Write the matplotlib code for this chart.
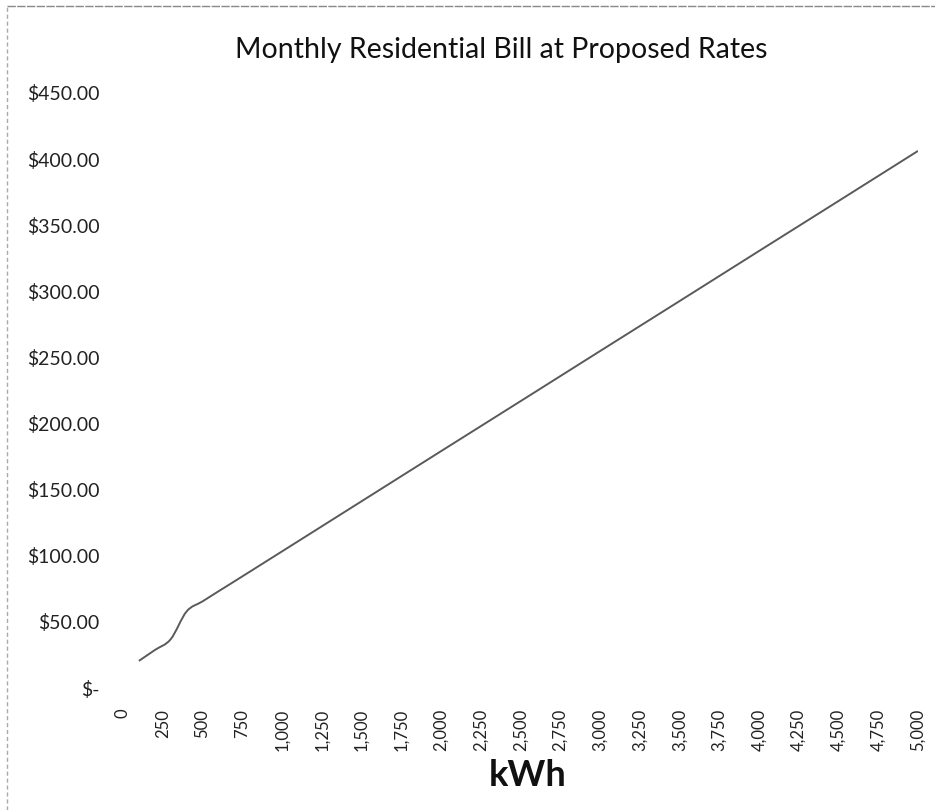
import matplotlib.pyplot as plt
from matplotlib.path import Path
from matplotlib.patches import PathPatch
from matplotlib.ticker import FuncFormatter, MultipleLocator
from matplotlib.lines import Line2D

# Monthly usage (kWh) and the resulting bill ($) at proposed rates
kwh = [100, 200, 300, 400, 500, 600, 700, 1000, 1500, 2000,
       2500, 3000, 3500, 4000, 4500, 5000]
bill = [20.5, 28.7, 36.9, 57.9, 65.5, 73.1, 80.6, 103.3, 141.2, 179.1,
        216.9, 254.8, 292.6, 330.5, 368.3, 406.2]

title = 'Monthly Residential Bill at Proposed Rates'
x_label = 'kWh'

plt.rcParams['font.family'] = ['Lato', 'DejaVu Sans']


def smooth_path(xs, ys):
    # Bezier curve through every point, like a spreadsheet "smoothed line"
    pts = list(zip(xs, ys))
    verts = [pts[0]]
    codes = [Path.MOVETO]
    n = len(pts)
    for i in range(n - 1):
        p0 = pts[i - 1] if i > 0 else pts[i]
        p1 = pts[i]
        p2 = pts[i + 1]
        p3 = pts[i + 2] if i + 2 < n else pts[i + 1]
        c1 = (p1[0] + (p2[0] - p0[0]) / 6, p1[1] + (p2[1] - p0[1]) / 6)
        c2 = (p2[0] - (p3[0] - p1[0]) / 6, p2[1] - (p3[1] - p1[1]) / 6)
        verts += [c1, c2, p2]
        codes += [Path.CURVE4] * 3
    return Path(verts, codes)


fig = plt.figure(figsize=(9.35, 8.1), dpi=100)
ax = fig.add_axes([123 / 935, 1 - 688 / 810, (918 - 123) / 935, (688 - 93) / 810])

ax.add_patch(PathPatch(smooth_path(kwh, bill), facecolor='none',
                       edgecolor='#5a5a5a', linewidth=1.4))

ax.set_xlim(0, 5000)
ax.set_ylim(0, 450)
ax.xaxis.set_major_locator(MultipleLocator(250))
ax.yaxis.set_major_locator(MultipleLocator(50))
ax.xaxis.set_major_formatter(FuncFormatter(lambda v, p: f'{int(v):,}'))
ax.yaxis.set_major_formatter(
    FuncFormatter(lambda v, p: '$-' if v == 0 else f'${v:,.2f}'))

for s in ax.spines.values():
    s.set_visible(False)
ax.tick_params(axis='both', length=0, colors='#222222')
ax.tick_params(axis='y', pad=17, labelsize=14)
ax.tick_params(axis='x', pad=15, labelsize=12, labelrotation=90)
for lab in ax.get_xticklabels():
    lab.set_verticalalignment('top')

fig.text(0.536, 0.938, title, ha='center', va='center', fontsize=20.5,
         color='#111111')
fig.text(0.564, 0.043, x_label, ha='center', va='center', fontsize=26,
         fontweight='bold', color='#111111')

# outer chart border (top and left edges)
fig.add_artist(Line2D([7 / 935, 1], [1 - 6 / 810, 1 - 6 / 810],
                      color='#888888', linewidth=1, linestyle=(0, (6, 1))))
fig.add_artist(Line2D([7 / 935, 7 / 935], [0, 1 - 6 / 810],
                      color='#aaaaaa', linewidth=1, linestyle=(0, (3, 2))))

fig.savefig('out.png', dpi=100)
